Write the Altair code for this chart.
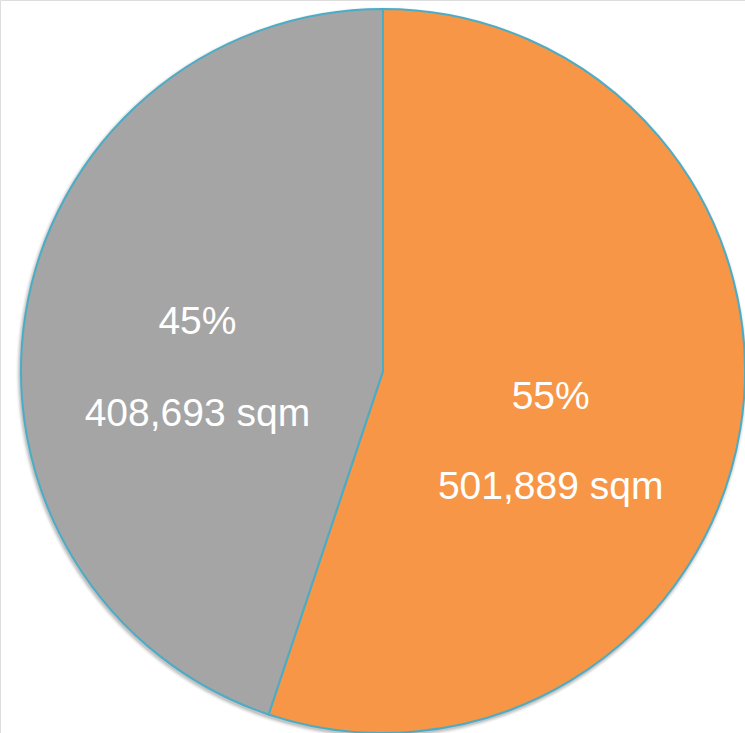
import altair as alt
import pandas as pd

# Floor area split between the two segments
segments = ["Segment A", "Segment B"]
areas = [501889, 408693]
shares = ["55%", "45%"]
colors = ["#F79646", "#A5A5A5"]

total = sum(areas)
df = pd.DataFrame({
    "segment": segments,
    "area": areas,
    "order": [0, 1],
    "share": shares,
    "area_label": [f"{a:,} sqm" for a in areas],
})

CX, CY, R = 383, 371, 362
FONT = "Liberation Sans"
theta_scale = alt.Scale(domain=[0, total])

# cumulative start/end of every slice, shared by the arcs and the labels
stacked = alt.Chart(df).transform_window(
    a1="sum(area)", sort=[alt.SortField("order")]
).transform_calculate(
    a0="datum.a1 - datum.area",
    mid="(datum.a1 - datum.area / 2)",
)

def disc(radius, **mark):
    return stacked.mark_arc(radius=radius, **mark).encode(
        theta=alt.Theta("a0:Q", scale=theta_scale),
        theta2="a1:Q",
        x=alt.value(CX),
        y=alt.value(CY),
    )

# soft drop shadow under the disc
shadow_layers = [
    disc(R + grow, color="#000000", opacity=op, strokeWidth=0, xOffset=-1, yOffset=2)
    for grow, op in [(4, 0.03), (3, 0.05), (2, 0.07), (1, 0.09)]
]

pie = disc(R, stroke="#4BACC6", strokeWidth=2).encode(
    color=alt.Color(
        "segment:N",
        scale=alt.Scale(domain=segments, range=colors),
        legend=None,
    )
)

def label(name, field, radius, dx, dy):
    return stacked.transform_filter(alt.datum.segment == name).mark_text(
        radius=radius,
        dx=dx,
        dy=dy,
        font=FONT,
        fontSize=39,
        color="white",
        align="center",
        baseline="middle",
    ).encode(
        theta=alt.Theta("mid:Q", scale=theta_scale),
        x=alt.value(CX),
        y=alt.value(CY),
        text=f"{field}:N",
    )

# block centres sit at slice mid-angle; the two lines are spread around it
labels = [
    label(segments[0], "share", 180, -10, 42 - 45),
    label(segments[0], "area_label", 180, -10, 42 + 45),
    label(segments[1], "share", 188, 0, 27 - 46),
    label(segments[1], "area_label", 188, 0, 27 + 46),
]

chart = alt.layer(*shadow_layers, pie, *labels).properties(
    width=745,
    height=733,
    padding=0,
    autosize=alt.AutoSizeParams(type="none"),
).configure_view(stroke=None).configure(background="white")

chart.save("out.html", embed_options={"renderer": "svg", "actions": False})
